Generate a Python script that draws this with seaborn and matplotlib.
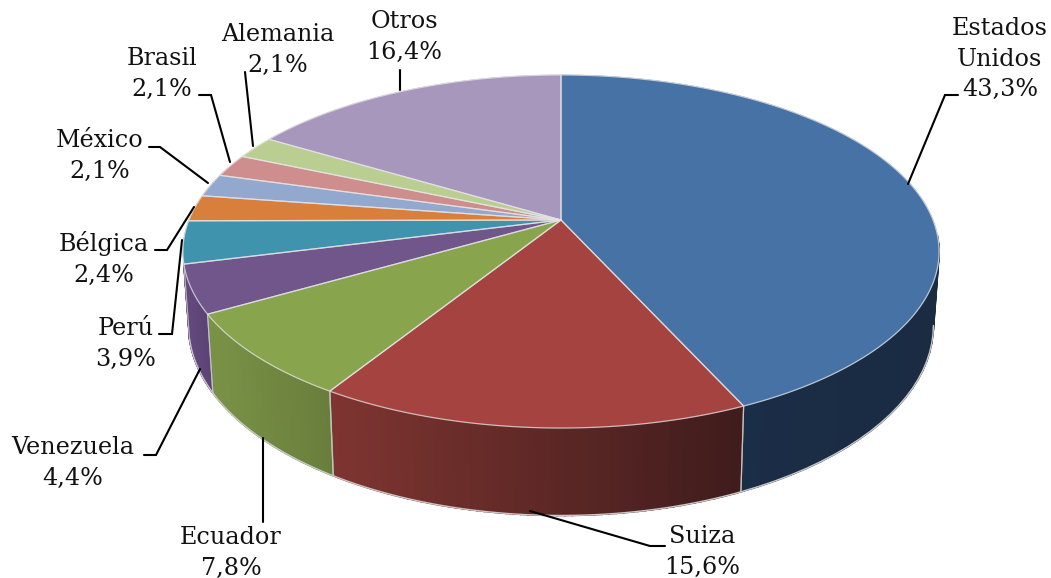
import numpy as np
import seaborn as sns
import matplotlib.pyplot as plt
from matplotlib.patches import Polygon

# Data
paises = ["Estados\nUnidos", "Suiza", "Ecuador", "Venezuela", "Perú", "Bélgica",
          "México", "Brasil", "Alemania", "Otros"]
valores = [43.3, 15.6, 7.8, 4.4, 3.9, 2.4, 2.1, 2.1, 2.1, 16.4]
colores = ["#4672A5", "#A54340", "#88A44C", "#71568C", "#3F93AD",
           "#D87F3C", "#93A8CE", "#CE8E8D", "#BACE92", "#A797BC"]
# side wall colours, left to right on screen (other slices have no visible wall)
lados = {0: ["#1B2E47", "#1A2B42"],
         1: ["#7F3531", "#401C1C"],
         2: ["#7A9246", "#697E3C"],
         3: ["#64497F", "#5B4374"]}

# Label placement (pixels)
label_x = [1000, 702, 231, 73, 126, 104, 100, 162, 278, 404]
label_y = [59, 552, 553, 463, 344, 259, 156, 74, 50, 37]
leaders = [[(908, 184), (945, 95), (958, 95)],
           [(530, 511), (650, 546), (665, 546)],
           [(263, 438), (263, 522)],
           [(200, 369), (156, 455), (144, 455)],
           [(182, 240), (172, 334), (159, 334)],
           [(194, 207), (167, 250), (155, 250)],
           [(208, 183), (160, 147), (149, 147)],
           [(230, 162), (211, 95), (199, 95)],
           [(253, 146), (245, 72)],
           [(400, 90), (400, 70)]]

# Pie perspective
cx, cy = 561, 220
rx, ry = 372, 170.9
k = 0.1784
base_x = 0.985
base_y = 1.0767
cy_base = 291.5


def proyecta(theta, esc_x=1.0, esc_y=1.0, centro=cy):
    u, v = np.sin(theta), np.cos(theta)
    w = 1 + k * v
    return cx + esc_x * rx * u / w, centro - esc_y * ry * v / w


sns.set_theme(style="white")
plt.rcParams["font.family"] = "DejaVu Serif"

fig = plt.figure(figsize=(10.51, 5.78), dpi=100)
ax = fig.add_axes([0, 0, 1, 1])
ax.set_xlim(0, 1051)
ax.set_ylim(578, 0)
ax.axis("off")

fracciones = np.array(valores) / np.sum(valores)
cortes = np.concatenate([[0], np.cumsum(fracciones)]) * 2 * np.pi
limite = -k + 0.1

# side walls first
for i in lados:
    t = np.linspace(cortes[i], cortes[i + 1], 60)
    t = t[np.cos(t) < limite]
    x_arr, y_arr = proyecta(t)
    x_aba, y_aba = proyecta(t, base_x, base_y, cy_base)
    rampa = sns.blend_palette(lados[i], 256)
    x_min, x_max = x_aba.min(), x_aba.max()
    for j in range(len(t) - 1):
        frac = (x_aba[j] - x_min) / max(x_max - x_min, 1)
        color = rampa[int(frac * 255)]
        ax.add_patch(Polygon([(x_arr[j], y_arr[j]), (x_arr[j + 1], y_arr[j + 1]),
                              (x_aba[j + 1], y_aba[j + 1]), (x_aba[j], y_aba[j])],
                             closed=True, facecolor=color, edgecolor=color, lw=1.2, zorder=2))
    # light rim along the bottom, only on the part that faces the viewer
    borde = np.cos(t) < -k
    ax.plot(x_aba[borde], y_aba[borde], color="#C9C9C9", lw=1.0, zorder=3, solid_capstyle="round")
    # divider only where a slice really ends, not at the silhouette cut
    for c in (cortes[i], cortes[i + 1]):
        if np.cos(c) < limite:
            xa, ya = proyecta(c)
            xb, yb = proyecta(c, base_x, base_y, cy_base)
            ax.plot([xa, xb], [ya, yb], color="#C9C9C9", lw=0.9, alpha=0.8, zorder=3)

# top face
for i in range(len(valores)):
    t = np.linspace(cortes[i], cortes[i + 1], 120)
    x, y = proyecta(t)
    pts = np.column_stack([np.r_[cx, x], np.r_[cy, y]])
    ax.add_patch(Polygon(pts, closed=True, facecolor=colores[i],
                         edgecolor=colores[i], lw=0.5, zorder=4))
for i in range(len(valores)):
    t = np.linspace(cortes[i], cortes[i + 1], 120)
    x, y = proyecta(t)
    ax.plot(np.r_[cx, x, cx], np.r_[cy, y, cy], color="#E4E4E4", lw=0.9,
            alpha=0.75, zorder=5, solid_joinstyle="round")

# labels and leader lines
for i in range(len(valores)):
    texto = f"{paises[i]}\n{valores[i]:.1f}%".replace(".", ",")
    ax.text(label_x[i], label_y[i], texto, ha="center", va="center", fontsize=17.2,
            color="#111111", linespacing=1.4, zorder=7)
    xs, ys = zip(*leaders[i])
    ax.plot(xs, ys, color="black", lw=1.5, zorder=6, solid_joinstyle="miter")

fig.savefig("out.png", dpi=100)
